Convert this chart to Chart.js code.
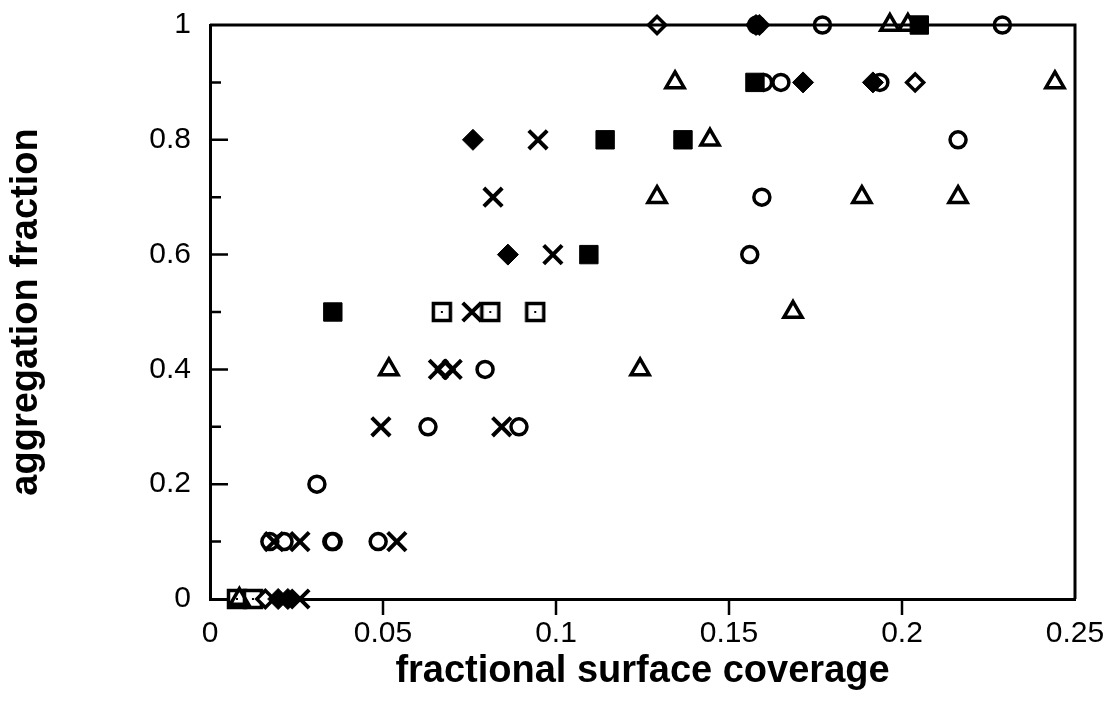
<!DOCTYPE html>
<html>
<head>
<meta charset="utf-8">
<script src="https://cdn.jsdelivr.net/npm/chart.js"></script>
<style>
  html, body { margin: 0; padding: 0; background: #fff; }
  #wrap { width: 1107px; height: 702px; }
</style>
</head>
<body>
<div id="wrap"><canvas id="chart" width="1107" height="702"></canvas></div>
<script>
// values, one pair of arrays per marker type
const openCircleX = [0.158, 0.177, 0.229, 0.160, 0.165, 0.1936, 0.2162, 0.1595, 0.156, 0.0795, 0.063, 0.0893, 0.0309, 0.0173, 0.0214, 0.0352, 0.0356, 0.0486];
const openCircleY = [1, 1, 1, 0.9, 0.9, 0.9, 0.8, 0.7, 0.6, 0.4, 0.3, 0.3, 0.2, 0.1, 0.1, 0.1, 0.1, 0.1];

const triangleX = [0.1965, 0.2017, 0.1344, 0.2442, 0.1445, 0.1292, 0.1884, 0.2162, 0.1685, 0.0517, 0.1243, 0.0085];
const triangleY = [1, 1, 0.9, 0.9, 0.8, 0.7, 0.7, 0.7, 0.5, 0.4, 0.4, 0];

const crossX = [0.0948, 0.0818, 0.0991, 0.0757, 0.066, 0.070, 0.0494, 0.0843, 0.0185, 0.026, 0.054, 0.026];
const crossY = [0.8, 0.7, 0.6, 0.5, 0.4, 0.4, 0.3, 0.3, 0.1, 0.1, 0.1, 0];

const filledSquareX = [0.205, 0.1575, 0.1142, 0.1367, 0.1095, 0.0355];
const filledSquareY = [1, 0.9, 0.8, 0.8, 0.6, 0.5];

const filledDiamondX = [0.1578, 0.1714, 0.1916, 0.076, 0.0861, 0.0197, 0.0225];
const filledDiamondY = [1, 0.9, 0.9, 0.8, 0.6, 0, 0];

const openDiamondX = [0.1292, 0.1588, 0.2038, 0.068, 0.016];
const openDiamondY = [1, 1, 0.9, 0.4, 0];

const dotSquareX = [0.067, 0.081, 0.094, 0.0078, 0.0124];
const dotSquareY = [0.5, 0.5, 0.5, 0, 0];

const xTickLabels = ['0', '0.05', '0.1', '0.15', '0.2', '0.25'];
const yTickLabels = ['0', '0.2', '0.4', '0.6', '0.8', '1'];

function pts(xs, ys) {
    return xs.map((x, i) => ({ x: x, y: ys[i] }));
}

// open square with a dot in the middle
function dotSquare() {
    const c = document.createElement('canvas');
    c.width = 22; c.height = 22;
    const g = c.getContext('2d');
    g.fillStyle = '#fff';
    g.fillRect(2, 2, 18, 18);
    g.lineWidth = 3.5;
    g.strokeStyle = '#000';
    g.strokeRect(2.5, 2.5, 17, 17);
    g.fillStyle = '#000';
    g.fillRect(10, 10, 2, 2);
    return c;
}

// box frame and tick marks (y ticks inward, x ticks outward)
const framePlugin = {
    id: 'frame',
    afterDraw(chart) {
        const ctx = chart.ctx;
        const { left, right, top, bottom } = chart.chartArea;
        const xs = chart.scales.x, ys = chart.scales.y;
        ctx.save();
        ctx.strokeStyle = '#000';
        ctx.lineWidth = 3;
        ctx.beginPath();
        ctx.moveTo(left, top);
        ctx.lineTo(right, top);
        ctx.lineTo(right, bottom);
        ctx.stroke();
        ctx.lineWidth = 2.5;
        ctx.beginPath();
        for (let i = 1; i < 10; i++) {
            const y = ys.getPixelForValue(i / 10);
            ctx.moveTo(left, y);
            ctx.lineTo(left + (i % 2 === 0 ? 18 : 11), y);
        }
        for (let i = 1; i < 5; i++) {
            const x = xs.getPixelForValue(i * 0.05);
            ctx.moveTo(x, bottom);
            ctx.lineTo(x, bottom + 16);
        }
        ctx.stroke();
        ctx.restore();
    }
};

const openStyle = { borderColor: '#000', backgroundColor: 'rgba(0,0,0,0)', borderWidth: 3.5 };
const fillStyle = { borderColor: '#000', backgroundColor: '#000', borderWidth: 1 };
const tickFont = { family: 'Liberation Sans, Arial, sans-serif', size: 30 };
const titleFont = { family: 'Liberation Sans, Arial, sans-serif', size: 38, weight: 'bold' };

new Chart(document.getElementById('chart'), {
    type: 'scatter',
    data: {
        datasets: [
            Object.assign({ label: 'circle', data: pts(openCircleX, openCircleY), pointStyle: 'circle', pointRadius: 8 }, openStyle),
            Object.assign({ label: 'triangle', data: pts(triangleX, triangleY), pointStyle: 'triangle', pointRadius: 10.5 }, openStyle),
            { label: 'cross', data: pts(crossX, crossY), pointStyle: 'crossRot', pointRadius: 13, borderWidth: 4, borderColor: '#000' },
            Object.assign({ label: 'square', data: pts(filledSquareX, filledSquareY), pointStyle: 'rect', pointRadius: 13 }, fillStyle),
            Object.assign({ label: 'diamond', data: pts(filledDiamondX, filledDiamondY), pointStyle: 'rectRot', pointRadius: 10.5 }, fillStyle),
            Object.assign({ label: 'open diamond', data: pts(openDiamondX, openDiamondY), pointStyle: 'rectRot', pointRadius: 8.5 }, openStyle, { backgroundColor: '#fff' }),
            { label: 'dot square', data: pts(dotSquareX, dotSquareY), pointStyle: dotSquare() }
        ]
    },
    options: {
        responsive: false,
        animation: false,
        layout: { padding: { top: 25, right: 32, left: 0, bottom: 0 } },
        plugins: {
            legend: { display: false },
            tooltip: { enabled: false }
        },
        datasets: { scatter: { clip: false } },
        scales: {
            x: {
                type: 'linear',
                min: 0,
                max: 0.25,
                grid: { display: false },
                border: { display: true, color: '#000', width: 3 },
                ticks: {
                    stepSize: 0.05,
                    padding: 9,
                    color: '#000',
                    font: tickFont,
                    callback: (v, i) => xTickLabels[i]
                },
                title: {
                    display: true,
                    text: 'fractional surface coverage',
                    color: '#000',
                    font: titleFont,
                    padding: { top: 0, bottom: 8 }
                },
                afterFit: s => { s.height = 103; s.paddingLeft = 0; s.paddingRight = 0; }
            },
            y: {
                type: 'linear',
                min: 0,
                max: 1,
                grid: { display: false },
                border: { display: true, color: '#000', width: 3 },
                ticks: {
                    stepSize: 0.2,
                    padding: 11,
                    color: '#000',
                    font: tickFont,
                    callback: (v, i) => yTickLabels[i]
                },
                title: {
                    display: true,
                    text: 'aggregation fraction',
                    color: '#000',
                    font: titleFont,
                    padding: { top: 4, bottom: 0 }
                },
                afterFit: s => { s.width = 210; s.paddingTop = 0; s.paddingBottom = 0; }
            }
        }
    },
    plugins: [framePlugin]
});
</script>
</body>
</html>
